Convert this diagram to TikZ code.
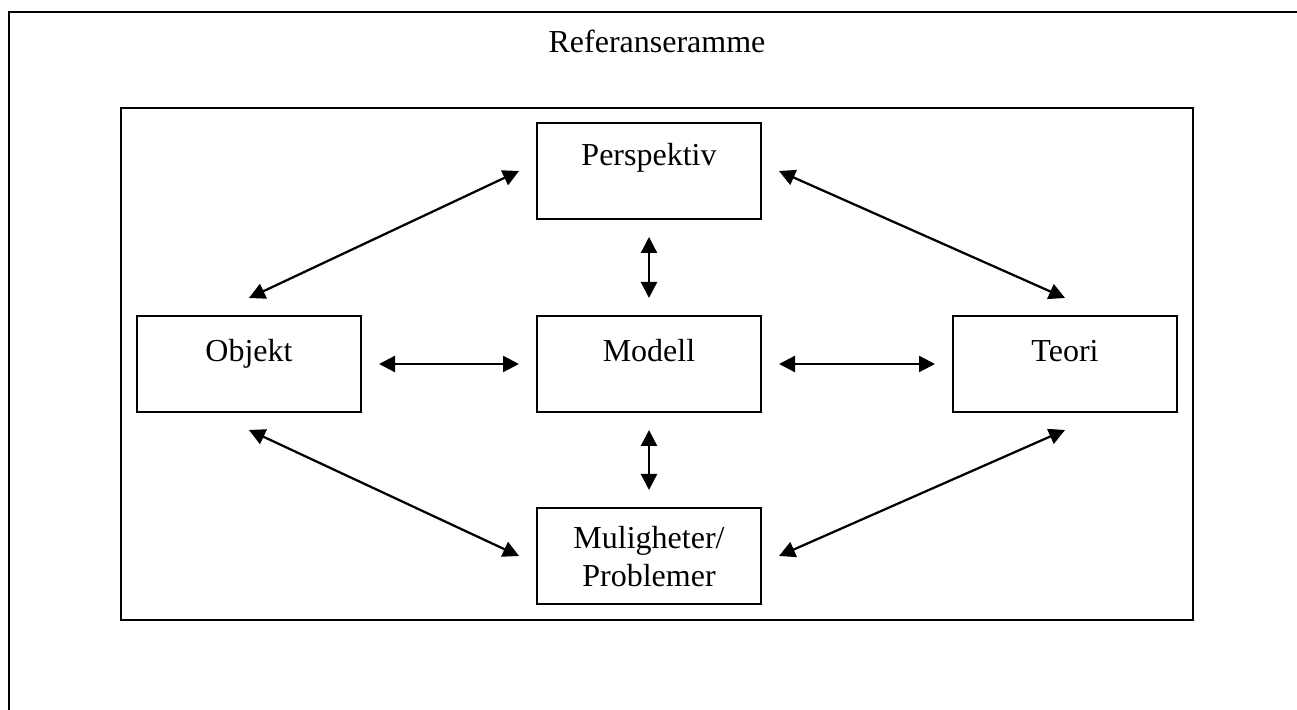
\documentclass[tikz,border=0pt]{standalone}
\usepackage{fontspec}
\setmainfont{Liberation Serif}
\usepackage{tikz}
\usetikzlibrary{arrows.meta, positioning}

\begin{document}
\begin{tikzpicture}[
    x=0.4pt, y=-0.4pt, % pixel grid, y pointing down
    box/.style={draw, rectangle, line width=0.8pt, minimum width=89.6pt, minimum height=38.4pt, inner sep=0pt, font=\fontsize{12.8}{15.2}\selectfont, align=center}, % boxes
    toptext/.style={text height=#1, text depth=38.4pt-#1}, % text near the top of the box
    toptext/.default=17.2pt,
    edge/.style={{Triangle[length=6.4pt, width=6.4pt]}-{Triangle[length=6.4pt, width=6.4pt]}, line width=0.9pt}
]

% Page and frames
\useasboundingbox (0,0) rectangle (1297,710);
\draw[line width=0.8pt] (1297,12) -- (9,12) -- (9,710);
\draw[line width=0.8pt] (121,108) rectangle (1193,620);

\node[anchor=base, font=\fontsize{12.8}{15.2}\selectfont] (title) at (657,53) {Referanseramme};

% Boxes
\node[box, toptext] (perspektiv) at (649,171) {Perspektiv};
\node[box, toptext=18.4pt] (objekt) at (249,364) {Objekt};
\node[box, toptext=18.4pt] (modell) at (649,364) {Modell};
\node[box, toptext=18.4pt] (teori) at (1065,364) {Teori};
\node[box, toptext=31.4pt] (muligheter) at (649,556) {Muligheter/\\Problemer};

% Edges
\draw[edge] ([yshift=6.8pt]objekt.north) -- ([xshift=-6.8pt]perspektiv.west);
\draw[edge] ([xshift=6.8pt]perspektiv.east) -- ([yshift=6.8pt]teori.north);
\draw[edge] ([yshift=-6.8pt]perspektiv.south) -- ([yshift=6.8pt]modell.north);
\draw[edge] ([xshift=6.8pt]objekt.east) -- ([xshift=-6.8pt]modell.west);
\draw[edge] ([xshift=6.8pt]modell.east) -- ([xshift=-6.8pt]teori.west);
\draw[edge] ([yshift=-6.8pt]modell.south) -- ([yshift=6.8pt]muligheter.north);
\draw[edge] ([yshift=-6.8pt]objekt.south) -- ([xshift=-6.8pt]muligheter.west);
\draw[edge] ([xshift=6.8pt]muligheter.east) -- ([yshift=-6.8pt]teori.south);

\end{tikzpicture}
\end{document}
